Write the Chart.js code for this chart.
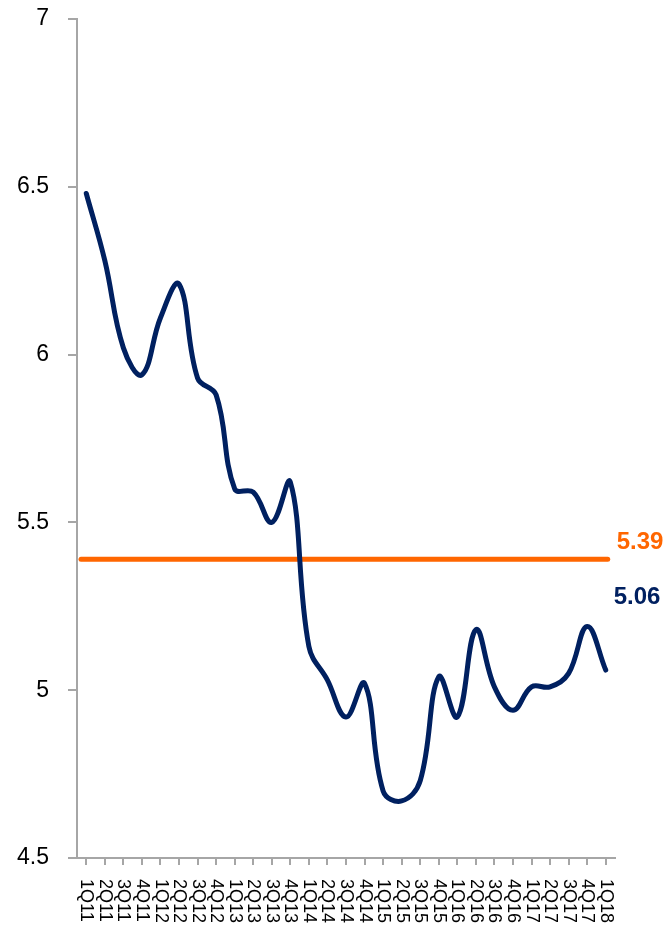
<!DOCTYPE html>
<html>
<head>
<meta charset="utf-8">
<script src="https://cdn.jsdelivr.net/npm/chart.js@4/dist/chart.umd.min.js"></script>
<style>
  html, body { margin: 0; padding: 0; background: #fff; }
  #wrap { width: 669px; height: 925px; }
</style>
</head>
<body>
<div id="wrap"><canvas id="ratioChart"></canvas></div>
<script>
const quarters = ['1Q11', '2Q11', '3Q11', '4Q11', '1Q12', '2Q12', '3Q12', '4Q12',
    '1Q13', '2Q13', '3Q13', '4Q13', '1Q14', '2Q14', '3Q14', '4Q14',
    '1Q15', '2Q15', '3Q15', '4Q15', '1Q16', '2Q16', '3Q16', '4Q16',
    '1Q17', '2Q17', '3Q17', '4Q17', '1Q18'];
const values = [6.48, 6.28, 6.02, 5.94, 6.11, 6.21, 5.93, 5.88,
    5.60, 5.59, 5.50, 5.62, 5.13, 5.03, 4.92, 5.02,
    4.70, 4.67, 4.73, 5.04, 4.92, 5.18, 5.01, 4.94,
    5.01, 5.01, 5.05, 5.19, 5.06];
const average = 5.39;
const yTicks = [4.5, 5, 5.5, 6, 6.5, 7];

const navy = '#002060';
const orange = '#ff6600';
const axisGrey = '#a6a6a6';

// average line + value labels + rotated quarter labels
const extras = {
    id: 'extras',
    beforeDatasetsDraw(chart) {
        const { ctx, chartArea, scales } = chart;
        const y = scales.y.getPixelForValue(average);
        const xEnd = scales.x.getPixelForValue(quarters.length - 1) + 2;
        ctx.save();
        ctx.strokeStyle = orange;
        ctx.lineWidth = 5;
        ctx.lineCap = 'round';
        ctx.beginPath();
        ctx.moveTo(chartArea.left + 4, y);
        ctx.lineTo(xEnd, y);
        ctx.stroke();
        ctx.restore();
    },
    afterDraw(chart) {
        const { ctx, chartArea, scales } = chart;
        ctx.save();
        ctx.font = 'bold 24px "Liberation Sans", Arial, sans-serif';
        ctx.textBaseline = 'middle';
        ctx.textAlign = 'left';
        const lastX = scales.x.getPixelForValue(quarters.length - 1);
        ctx.fillStyle = orange;
        ctx.fillText(average.toFixed(2), lastX + 11, scales.y.getPixelForValue(average) - 17);
        const last = values[values.length - 1];
        ctx.fillStyle = navy;
        ctx.fillText(last.toFixed(2), lastX + 8, scales.y.getPixelForValue(last) - 73);

        ctx.font = '18px "Liberation Sans", Arial, sans-serif';
        ctx.fillStyle = '#000';
        quarters.forEach((q, i) => {
            const x = scales.x.getPixelForValue(i);
            ctx.save();
            ctx.translate(x, chartArea.bottom + 21);
            ctx.rotate(Math.PI / 2);
            ctx.textAlign = 'left';
            ctx.textBaseline = 'middle';
            ctx.fillText(q, 0, 0);
            ctx.restore();
        });
        ctx.restore();
    }
};

const ctx = document.getElementById('ratioChart').getContext('2d');
const ratioChart = new Chart(ctx, {
    type: 'line',
    data: {
        labels: quarters,
        datasets: [{
            data: values,
            borderColor: navy,
            borderWidth: 5,
            pointRadius: 0,
            tension: 0.4,
            borderCapStyle: 'round',
            fill: false
        }]
    },
    options: {
        responsive: true,
        maintainAspectRatio: false,
        animation: false,
        layout: { padding: { top: 19, right: 54, bottom: 0, left: 0 } },
        plugins: {
            legend: { display: false },
            tooltip: { enabled: false }
        },
        scales: {
            x: {
                offset: true,
                grid: { drawOnChartArea: false, drawTicks: true, tickLength: 7, color: axisGrey, lineWidth: 2 },
                border: { color: axisGrey, width: 2 },
                ticks: { display: false },
                afterFit(scale) { scale.height = 67; }
            },
            y: {
                min: 4.5,
                max: 7,
                afterBuildTicks(scale) { scale.ticks = yTicks.map(v => ({ value: v })); },
                grid: { drawOnChartArea: false, drawTicks: true, tickLength: 9, color: axisGrey, lineWidth: 2 },
                border: { color: axisGrey, width: 2 },
                ticks: {
                    padding: 19,
                    color: '#000',
                    font: { family: '"Liberation Sans", Arial, sans-serif', size: 23 },
                    callback: v => String(v)
                },
                afterFit(scale) {
                    scale.width = 77;
                    scale.paddingTop = 0;
                    scale.paddingBottom = 0;
                }
            }
        }
    },
    plugins: [extras]
});
</script>
</body>
</html>
